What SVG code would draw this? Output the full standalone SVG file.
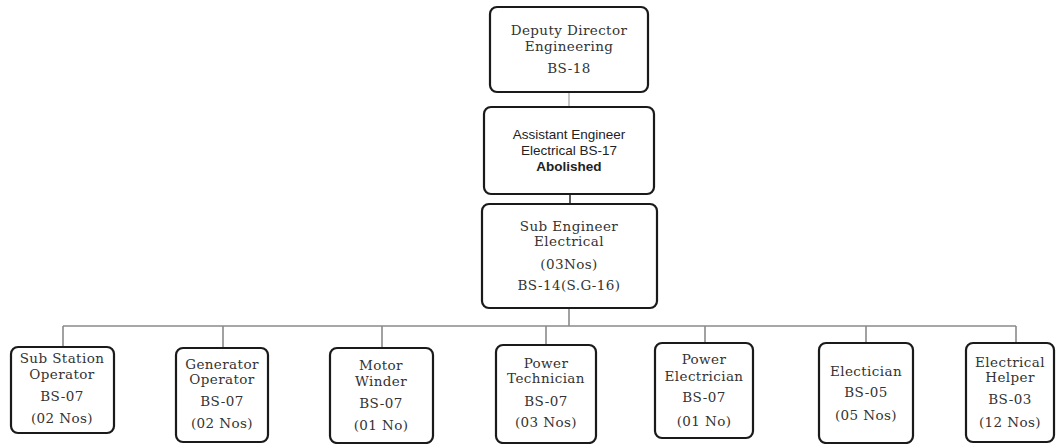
<svg xmlns="http://www.w3.org/2000/svg" width="1057" height="444" viewBox="0 0 1057 444">
<style>
.box{fill:#fff;stroke:#1a1a1a;stroke-width:2.2}
.t{font-family:"DejaVu Serif","Liberation Serif",serif;font-size:13.5px;letter-spacing:0.4px;fill:#333;text-anchor:middle}
.s{font-family:"Liberation Sans","Open Sans",sans-serif;font-size:13.5px;fill:#222;text-anchor:middle}
.b{font-weight:bold}
.c{stroke:#8a8a8a;stroke-width:1.6;fill:none}
</style>
<rect width="1057" height="444" fill="#fff"/>
<g id="connectors">
<line class="c" x1="569" y1="92" x2="569" y2="107" stroke-opacity="0.6"/>
<line class="c" x1="570" y1="194" x2="570" y2="204" style="stroke:#333"/>
<path class="c" d="M569 308 V326 M63 326 H1016 M63 326 V347 M223 326 V348 M382 326 V348 M546 326 V345 M705 326 V343 M866 326 V343 M1016 326 V343"/>
</g>
<g id="deputy-director">
<rect class="box" x="490" y="7" width="158" height="85" rx="7"/>
<text class="t" x="569" y="35">Deputy Director</text>
<text class="t" x="569" y="51">Engineering</text>
<text class="t" x="569" y="73">BS-18</text>
</g>
<g id="assistant-engineer">
<rect class="box" x="484" y="107" width="170" height="87" rx="7"/>
<text class="s" x="569" y="139">Assistant Engineer</text>
<text class="s" x="569" y="155">Electrical BS-17</text>
<text class="s b" x="569" y="171">Abolished</text>
</g>
<g id="sub-engineer">
<rect class="box" x="482" y="204" width="175" height="104" rx="7"/>
<text class="t" x="569" y="231">Sub Engineer</text>
<text class="t" x="569" y="246">Electrical</text>
<text class="t" x="569" y="269">(03Nos)</text>
<text class="t" x="569" y="290">BS-14(S.G-16)</text>
</g>
<g id="sub-station-operator">
<rect class="box" x="11" y="347" width="103" height="86" rx="7"/>
<text class="t" x="62" y="363">Sub Station</text>
<text class="t" x="62" y="379">Operator</text>
<text class="t" x="62" y="401">BS-07</text>
<text class="t" x="62" y="423">(02 Nos)</text>
</g>
<g id="generator-operator">
<rect class="box" x="176" y="348" width="92" height="94" rx="7"/>
<text class="t" x="222" y="369">Generator</text>
<text class="t" x="222" y="384">Operator</text>
<text class="t" x="222" y="406">BS-07</text>
<text class="t" x="222" y="428">(02 Nos)</text>
</g>
<g id="motor-winder">
<rect class="box" x="330" y="348" width="103" height="95" rx="7"/>
<text class="t" x="381" y="370">Motor</text>
<text class="t" x="381" y="386">Winder</text>
<text class="t" x="381" y="408">BS-07</text>
<text class="t" x="381" y="430">(01 No)</text>
</g>
<g id="power-technician">
<rect class="box" x="496" y="345" width="100" height="98" rx="7"/>
<text class="t" x="546" y="368">Power</text>
<text class="t" x="546" y="383">Technician</text>
<text class="t" x="546" y="406">BS-07</text>
<text class="t" x="546" y="427">(03 Nos)</text>
</g>
<g id="power-electrician">
<rect class="box" x="655" y="343" width="98" height="95" rx="7"/>
<text class="t" x="704" y="364">Power</text>
<text class="t" x="704" y="381">Electrician</text>
<text class="t" x="704" y="402">BS-07</text>
<text class="t" x="704" y="426">(01 No)</text>
</g>
<g id="electician">
<rect class="box" x="819" y="343" width="94" height="100" rx="7"/>
<text class="t" x="866" y="376">Electician</text>
<text class="t" x="866" y="397">BS-05</text>
<text class="t" x="866" y="420">(05 Nos)</text>
</g>
<g id="electrical-helper">
<rect class="box" x="966" y="343" width="88" height="99" rx="7"/>
<text class="t" x="1010" y="367">Electrical</text>
<text class="t" x="1010" y="382">Helper</text>
<text class="t" x="1010" y="404">BS-03</text>
<text class="t" x="1010" y="427">(12 Nos)</text>
</g>
</svg>
